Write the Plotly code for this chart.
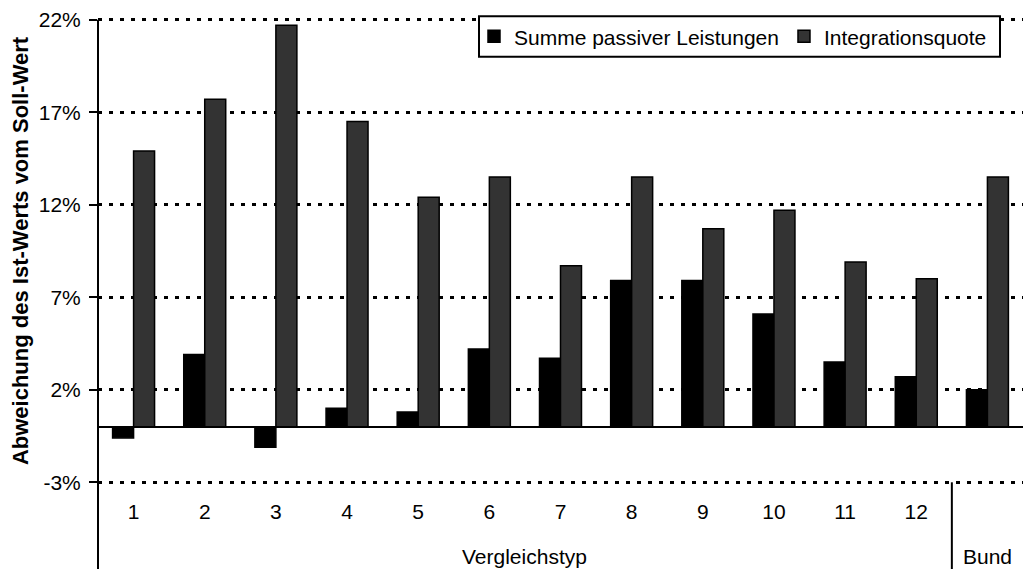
import plotly.graph_objects as go

# Abweichung des Ist-Werts vom Soll-Wert je Vergleichstyp (in %)
categories = ["1", "2", "3", "4", "5", "6", "7", "8", "9", "10", "11", "12", "Bund"]
tick_labels = ["1", "2", "3", "4", "5", "6", "7", "8", "9", "10", "11", "12", ""]
summe_passiver_leistungen = [-0.6, 3.9, -1.1, 1.0, 0.8, 4.2, 3.7, 7.9, 7.9, 6.1, 3.5, 2.7, 2.0]
integrationsquote = [14.9, 17.7, 21.7, 16.5, 12.4, 13.5, 8.7, 13.5, 10.7, 11.7, 8.9, 8.0, 13.5]
y_ticks = [-3, 2, 7, 12, 17, 22]
y_tick_text = [f"{v}%" for v in y_ticks]
group_label = "Vergleichstyp"
bund_label = "Bund"

FONT = "Arial, 'Liberation Sans', sans-serif"
FS = 21

# plot area in pixels; the value range is padded a little beyond -3 % and 22 %
# so that the gridlines at both ends are drawn
W, H = 1023, 569
PAD = 0.2
UNIT_PX = 18.48
M_L, M_R = 98, 0
M_T = 20 - PAD * UNIT_PX
M_B = H - 482 - PAD * UNIT_PX
PH = H - M_T - M_B
PW = W - M_L - M_R
Y_RANGE = [y_ticks[0] - PAD, y_ticks[-1] + PAD]


def py(pixel_y):
    """page pixel row -> paper y"""
    return (H - M_B - pixel_y) / PH


def px(pixel_x):
    """page pixel column -> paper x"""
    return (pixel_x - M_L) / PW


fig = go.Figure()
fig.add_trace(go.Bar(
    x=categories, y=summe_passiver_leistungen, name="Summe passiver Leistungen",
    marker=dict(color="#000000", line=dict(color="#000000", width=1.5)),
))
fig.add_trace(go.Bar(
    x=categories, y=integrationsquote, name="Integrationsquote",
    marker=dict(color="#333333", line=dict(color="#000000", width=1.5)),
))

# value axis line, running from the top gridline down through the category band
fig.add_shape(type="line", xref="paper", x0=0, x1=0, yref="paper",
              y0=py(20), y1=py(569), line=dict(color="black", width=2))

# lower band of the category axis: group labels and divider
fig.add_annotation(x=5.5, xref="x", y=py(556), yref="paper",
                   text=group_label, showarrow=False, yanchor="middle",
                   font=dict(family=FONT, size=FS, color="black"))
fig.add_annotation(x=12, xref="x", y=py(556), yref="paper",
                   text=bund_label, showarrow=False, yanchor="middle",
                   font=dict(family=FONT, size=FS, color="black"))
fig.add_shape(type="line", xref="x", x0=11.5, x1=11.5, yref="paper",
              y0=py(482), y1=py(569), line=dict(color="black", width=2))

# legend frame
fig.add_shape(type="rect", xref="paper", yref="paper",
              x0=px(479), x1=px(1000), y0=py(57), y1=py(16.5),
              fillcolor="white", line=dict(color="black", width=2), layer="above")

fig.update_layout(
    width=W, height=H,
    margin=dict(l=M_L, r=M_R, t=M_T, b=M_B),
    paper_bgcolor="white", plot_bgcolor="white",
    barmode="group", bargap=0.41, bargroupgap=0,
    font=dict(family=FONT, size=FS, color="black"),
    showlegend=True,
    legend=dict(orientation="h", x=px(474), xanchor="left",
                y=py(37), yanchor="middle",
                bgcolor="rgba(0,0,0,0)", borderwidth=0,
                font=dict(family=FONT, size=FS, color="black")),
)
fig.update_xaxes(
    type="category", categoryorder="array", categoryarray=categories,
    tickvals=categories, ticktext=tick_labels,
    showgrid=False, showline=False, zeroline=False, ticks="",
    ticklabelstandoff=11, automargin=False,
    tickfont=dict(family=FONT, size=FS, color="black"),
)
fig.update_yaxes(
    range=Y_RANGE, tickvals=y_ticks, ticktext=y_tick_text,
    showgrid=True, gridcolor="black", gridwidth=2.5, griddash="4px,7px",
    zeroline=True, zerolinecolor="black", zerolinewidth=2,
    showline=False,
    ticks="outside", ticklen=8, tickwidth=2, tickcolor="black",
    ticklabelstandoff=4, automargin=False,
    tickfont=dict(family=FONT, size=FS, color="black"),
    title=dict(text="Abweichung des Ist-Werts vom Soll-Wert", standoff=4,
               font=dict(family=FONT, size=22, color="black", weight="bold")),
)

fig.write_html("out.html")
